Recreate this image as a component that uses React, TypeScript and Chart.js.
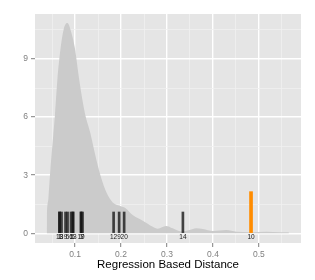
import React, { useEffect, useRef } from "react";
import { Chart, registerables } from "chart.js";
Chart.register(...registerables);

// Density curve (x = distance, y = density)
const densityX = [0.0383, 0.0386, 0.042, 0.047, 0.052, 0.0564, 0.0614, 0.0688, 0.075, 0.0832, 0.0928, 0.0993, 0.1094, 0.1218, 0.133, 0.1415, 0.152, 0.166, 0.1777, 0.1864, 0.2, 0.21, 0.2254, 0.2472, 0.269, 0.28, 0.298, 0.3124, 0.331, 0.349, 0.3635, 0.378, 0.4, 0.429, 0.451, 0.48, 0.516, 0.545, 0.565, 0.5652];
const densityY = [0, 0.6, 1.8, 3.5, 4.9, 6.16, 7.88, 9.6, 10.5, 10.85, 10.29, 9.6, 7.88, 6.16, 5.2, 4.3, 3.27, 2.24, 1.72, 1.51, 1.4, 1.3, 0.94, 0.65, 0.34, 0.24, 0.38, 0.26, 0.1, 0.17, 0.26, 0.22, 0.12, 0.17, 0.08, 0.06, 0.08, 0.05, 0.06, 0];

// Rug marks (samples)
const rugX = [0.0662, 0.0662, 0.0706, 0.0793, 0.0837, 0.0913, 0.0956, 0.0956, 0.1131, 0.1131, 0.1163, 0.1839, 0.1959, 0.2068, 0.3346];
const rugY = [1.1, 1.1, 1.1, 1.1, 1.1, 1.1, 1.1, 1.1, 1.1, 1.1, 1.1, 1.1, 1.1, 1.1, 1.1];
const rugLabels = ["18", "1", "3", "9", "5", "6", "5", "13", "19", "1", "7", "12", "9", "20", "14"];

// Highlighted sample
const highlightX = [0.4828];
const highlightY = [2.15];
const highlightLabels = ["10"];

const xMajor = [0.1, 0.2, 0.3, 0.4, 0.5];
const xAll = [0.05, 0.1, 0.15, 0.2, 0.25, 0.3, 0.35, 0.4, 0.45, 0.5, 0.55];
const yMajor = [0, 3, 6, 9];
const yAll = [0, 1.5, 3, 4.5, 6, 7.5, 9, 10.5];

const isMajor = (arr: number[], v: number) => arr.some((m) => Math.abs(m - v) < 1e-9);

export default function App() {
  const ref = useRef<HTMLCanvasElement | null>(null);
  useEffect(() => {
    if (!ref.current) return;
    const font = "'Liberation Sans', Arial, Helvetica, sans-serif";
    const bgPlugin = {
      id: "panelBg",
      beforeDraw(chart: any) {
        const { ctx, chartArea } = chart;
        ctx.save();
        ctx.fillStyle = "#E5E5E5";
        ctx.fillRect(chartArea.left, chartArea.top, chartArea.right - chartArea.left, chartArea.bottom - chartArea.top);
        ctx.restore();
      },
    };
    const labelPlugin = {
      id: "rugLabels",
      afterDatasetsDraw(chart: any) {
        const { ctx } = chart;
        const xs = chart.scales.x;
        const ys = chart.scales.y;
        ctx.save();
        ctx.font = `6.5px ${font}`;
        ctx.fillStyle = "#1a1a1a";
        ctx.textAlign = "center";
        ctx.textBaseline = "middle";
        const y0 = ys.getPixelForValue(0) + 4;
        rugX.forEach((x, i) => ctx.fillText(rugLabels[i], xs.getPixelForValue(x), y0));
        highlightX.forEach((x, i) => ctx.fillText(highlightLabels[i], xs.getPixelForValue(x), y0));
        ctx.restore();
      },
    };
    const chart = new Chart(ref.current, {
      type: "line",
      data: {
        datasets: [
          {
            type: "bar",
            data: highlightX.map((x, i) => ({ x, y: highlightY[i] })),
            backgroundColor: "#FF8C00",
            barThickness: 3,
            grouped: false,
            order: 0,
          } as any,
          {
            type: "bar",
            data: rugX.map((x, i) => ({ x, y: rugY[i] })),
            backgroundColor: "rgba(20,20,20,0.78)",
            barThickness: 2,
            grouped: false,
            order: 1,
          } as any,
          {
            type: "line",
            data: densityX.map((x, i) => ({ x, y: densityY[i] })),
            borderWidth: 0,
            borderColor: "rgba(0,0,0,0)",
            backgroundColor: "#CBCBCB",
            fill: "origin",
            pointRadius: 0,
            cubicInterpolationMode: "monotone",
            order: 2,
          } as any,
        ],
      },
      options: {
        animation: false,
        responsive: false,
        maintainAspectRatio: false,
        layout: { padding: { left: 0, top: 14, right: 14, bottom: 0 } },
        plugins: { legend: { display: false }, tooltip: { enabled: false } },
        scales: {
          x: {
            type: "linear",
            min: 0.0129,
            max: 0.5915,
            offset: false,
            border: { display: false },
            afterBuildTicks: (s: any) => {
              s.ticks = xAll.map((v) => ({ value: v }));
            },
            afterFit: (s: any) => {
              s.height = 37;
            },
            grid: {
              offset: false,
              color: (c: any) => (c.tick && isMajor(xMajor, c.tick.value) ? "#FFFFFF" : "#F0F0F0"),
              lineWidth: (c: any) => (c.tick && isMajor(xMajor, c.tick.value) ? 1.4 : 0.8),
              tickColor: (c: any) => (c.tick && isMajor(xMajor, c.tick.value) ? "#7F7F7F" : "rgba(0,0,0,0)"),
              tickLength: 4,
              tickWidth: 1,
            },
            ticks: {
              autoSkip: false,
              maxRotation: 0,
              padding: 3,
              color: "#7F7F7F",
              font: { family: font, size: 8.5 },
              callback: (v: any) => (isMajor(xMajor, Number(v)) ? String(Number(v).toFixed(1)) : ""),
            },
            title: {
              display: true,
              text: "Regression Based Distance",
              color: "#000000",
              font: { family: font, size: 11.5 },
              padding: { top: 0, bottom: 8 },
            },
          },
          y: {
            type: "linear",
            min: -0.5,
            max: 11.32,
            border: { display: false },
            afterBuildTicks: (s: any) => {
              s.ticks = yAll.map((v) => ({ value: v }));
            },
            afterFit: (s: any) => {
              s.width = 35;
            },
            grid: {
              color: (c: any) => (c.tick && isMajor(yMajor, c.tick.value) ? "#FFFFFF" : "#F0F0F0"),
              lineWidth: (c: any) => (c.tick && isMajor(yMajor, c.tick.value) ? 1.4 : 0.8),
              tickColor: (c: any) => (c.tick && isMajor(yMajor, c.tick.value) ? "#7F7F7F" : "rgba(0,0,0,0)"),
              tickLength: 4,
              tickWidth: 1,
            },
            ticks: {
              autoSkip: false,
              padding: 3,
              color: "#7F7F7F",
              font: { family: font, size: 8.5 },
              callback: (v: any) => (isMajor(yMajor, Number(v)) ? String(Number(v)) : ""),
            },
          },
        },
      },
      plugins: [bgPlugin, labelPlugin],
    });
    return () => chart.destroy();
  }, []);
  return (
    <div style={{ position: "fixed", left: 0, top: 0, width: 315, height: 280, background: "#FFFFFF" }}>
      <canvas ref={ref} width={315} height={280} style={{ width: 315, height: 280 }} />
    </div>
  );
}
